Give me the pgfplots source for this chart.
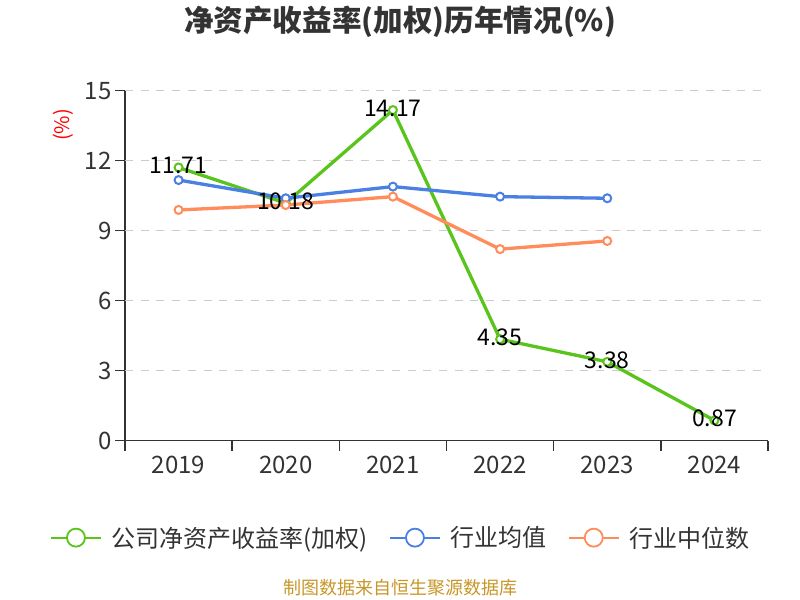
\documentclass[border=0pt]{standalone}
\usepackage{pgfplots}
\pgfplotsset{compat=1.18}
\usepackage{fontspec}
\setmainfont{Noto Sans CJK SC}
\definecolor{cgreen}{RGB}{88,196,28}
\definecolor{cblue}{RGB}{74,128,227}
\definecolor{corange}{RGB}{255,140,90}
\definecolor{titlec}{RGB}{51,51,51}
\definecolor{axisc}{RGB}{51,51,51}
\definecolor{gridc}{RGB}{204,204,204}
\definecolor{footc}{RGB}{200,150,40}
\begin{document}
\begin{tikzpicture}
\path[use as bounding box] (0,0) rectangle (800bp,600bp);
\node[font=\fontsize{29.6bp}{31bp}\selectfont\bfseries, text=titlec] at (400bp,578bp) {净资产收益率(加权)历年情况(\%)};
\node[rotate=90, text=red, font=\fontsize{20bp}{22bp}\selectfont] at (63bp,475bp) {(\%)};
\node[text=footc, font=\fontsize{18bp}{20bp}\selectfont] at (400bp,12bp) {制图数据来自恒生聚源数据库};
\begin{axis}[
  at={(125bp,159.3bp)}, anchor=south west,
  scale only axis, width=643bp, height=350bp,
  xmin=-0.5, xmax=5.5, ymin=0, ymax=15,
  axis x line*=bottom, axis y line*=left,
  axis line style={axisc, line width=1.5bp},
  xtick={-0.5,0.5,1.5,2.5,3.5,4.5,5.5},
  xticklabels={},
  extra x ticks={0,1,2,3,4,5},
  extra x tick labels={2019,2020,2021,2022,2023,2024},
  extra x tick style={major tick length=0bp, tick style={draw=none}, xticklabel style={yshift=-12bp}},
  ytick={0,3,6,9,12,15},
  extra y ticks={3,6,9,12,15},
  extra y tick labels={},
  extra y tick style={grid=major, major tick length=0bp},
  major tick length=10bp,
  xtick align=outside, ytick align=outside,
  tick style={draw=axisc, line width=1.5bp},
  grid style={draw=gridc, dash pattern=on 8bp off 7.7bp, line width=1.5bp},
  /pgf/number format/assume math mode=true,
  tick label style={text=axisc, font=\fontsize{24bp}{26bp}\selectfont},
  legend style={at={(0.429,-0.277)}, anchor=center, draw=none, fill=none,
    legend columns=-1, font=\fontsize{24bp}{26bp}\selectfont, text=axisc,
    /tikz/every odd column/.append style={column sep=8bp},
    /tikz/every even column/.append style={column sep=19bp}},
  legend image code/.code={
    \draw[#1, line width=1.8bp, mark=none] (0bp,0bp) -- (50bp,0bp);
    \draw[#1, line width=1.8bp, fill=white, mark=none] (25bp,0bp) circle (9bp);
  },
  every axis plot/.append style={line width=3.3bp, mark=*, mark size=4bp,
    mark options={fill=white, line width=2bp}},
  clip=false,
]
\addplot[cgreen, nodes near coords, point meta=explicit symbolic,
  every node near coord/.append style={text=black, anchor=center, yshift=2bp, font=\fontsize{23bp}{25bp}\selectfont}]
  coordinates {(0,11.71)[11.71] (1,10.18)[10.18] (2,14.17)[14.17] (3,4.35)[4.35] (4,3.38)[3.38] (5,0.87)[0.87]};
\addlegendentry{公司净资产收益率(加权)}
\addplot[cblue] coordinates {(0,11.17) (1,10.39) (2,10.89) (3,10.46) (4,10.39)};
\addlegendentry{行业均值}
\addplot[corange] coordinates {(0,9.89) (1,10.10) (2,10.46) (3,8.21) (4,8.56)};
\addlegendentry{行业中位数}
\end{axis}
\end{tikzpicture}
\end{document}
